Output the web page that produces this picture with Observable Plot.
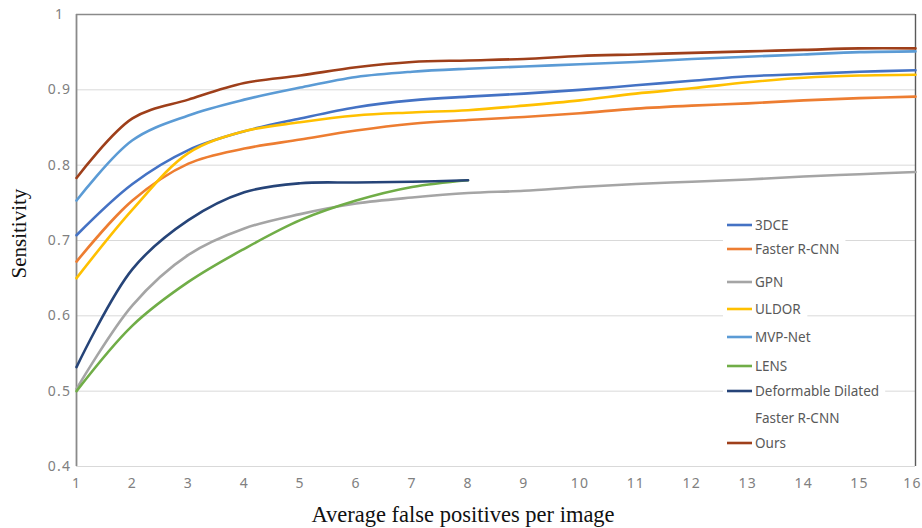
<!DOCTYPE html>
<html>
<head>
<meta charset="utf-8">
<script src="https://cdn.jsdelivr.net/npm/d3@7"></script>
<script src="https://cdn.jsdelivr.net/npm/@observablehq/plot@0.6"></script>
<style>
  html, body { margin: 0; padding: 0; background: #fff; }
  #chart svg { display: block; }
  .ticklab text { letter-spacing: 1.2px; }
</style>
</head>
<body>
<div id="chart"></div>
<script>
// ---- data ----
const xValues = [1, 2, 3, 4, 5, 6, 7, 8, 9, 10, 11, 12, 13, 14, 15, 16];
const seriesNames = ["3DCE", "Faster R-CNN", "GPN", "ULDOR", "MVP-Net", "LENS", "Deformable Dilated Faster R-CNN", "Ours"];
const seriesColors = ["#4472C4", "#ED7D31", "#A5A5A5", "#FFC000", "#5B9BD5", "#70AD47", "#264478", "#9E3F1A"];
const dce3       = [0.707, 0.775, 0.820, 0.845, 0.862, 0.877, 0.886, 0.891, 0.895, 0.900, 0.906, 0.912, 0.918, 0.921, 0.924, 0.926];
const fasterRcnn = [0.672, 0.753, 0.802, 0.822, 0.834, 0.846, 0.855, 0.860, 0.864, 0.869, 0.875, 0.879, 0.882, 0.886, 0.889, 0.891];
const gpn        = [0.503, 0.614, 0.681, 0.716, 0.735, 0.749, 0.757, 0.763, 0.766, 0.771, 0.775, 0.778, 0.781, 0.785, 0.788, 0.791];
const uldor      = [0.650, 0.741, 0.816, 0.845, 0.857, 0.866, 0.870, 0.873, 0.879, 0.886, 0.895, 0.902, 0.910, 0.916, 0.919, 0.920];
const mvpNet     = [0.753, 0.833, 0.866, 0.887, 0.903, 0.917, 0.924, 0.928, 0.931, 0.934, 0.937, 0.941, 0.944, 0.947, 0.950, 0.951];
const lens       = [0.500, 0.587, 0.645, 0.689, 0.727, 0.753, 0.771, 0.780];
const deformable = [0.532, 0.662, 0.727, 0.764, 0.776, 0.777, 0.778, 0.780];
const ours       = [0.783, 0.862, 0.887, 0.909, 0.919, 0.930, 0.937, 0.939, 0.941, 0.945, 0.947, 0.949, 0.951, 0.953, 0.955, 0.955];
const yTicks = [0.4, 0.5, 0.6, 0.7, 0.8, 0.9, 1];
const yTickLabels = ["0.4", "0.5", "0.6", "0.7", "0.8", "0.9", "1"];
const xTitle = "Average false positives per image";
const yTitle = "Sensitivity";
const legendLabels = [["3DCE"], ["Faster R-CNN"], ["GPN"], ["ULDOR"], ["MVP-Net"], ["LENS"], ["Deformable Dilated", "Faster R-CNN"], ["Ours"]];

// ---- build table ----
const seriesValues = [dce3, fasterRcnn, gpn, uldor, mvpNet, lens, deformable, ours];
const rows = [];
seriesValues.forEach((vals, i) => {
  vals.forEach((v, j) => rows.push({series: seriesNames[i], x: xValues[j], y: v}));
});

const tickFont = "'Noto Sans', 'DejaVu Sans', sans-serif";
const serif = "'Liberation Serif', 'DejaVu Serif', serif";
const lastX = xValues[xValues.length - 1];

const plot = Plot.plot({
  width: 922,
  height: 528,
  marginLeft: 76,
  marginRight: 7,
  marginTop: 14,
  marginBottom: 62,
  style: {background: "#fff"},
  x: {domain: [1, 16], axis: null},
  y: {domain: [0.4, 1], axis: null},
  color: {domain: seriesNames, range: seriesColors},
  marks: [
    Plot.ruleY(yTicks.slice(0, -1), {stroke: "#d9d9d9", strokeWidth: 1}),
    Plot.ruleY([1], {stroke: "#8a8a8a", strokeWidth: 1.6}),
    Plot.ruleX([1], {stroke: "#8a8a8a", strokeWidth: 1.8}),
    Plot.ruleX([16], {stroke: "#5a5a5a", strokeWidth: 1.4}),
    Plot.line(rows, {x: "x", y: "y", z: "series", stroke: "series", strokeWidth: 2.6, curve: "catmull-rom"}),
    Plot.text(yTicks, {y: d => d, text: (d, i) => yTickLabels[i], frameAnchor: "left", dx: -17, textAnchor: "middle",
      fontSize: 14, fontFamily: tickFont, fill: "#808080", className: "ticklab"}),
    Plot.text(xValues.filter(d => d !== lastX), {x: d => d, text: d => String(d), frameAnchor: "bottom", dy: 17, lineAnchor: "middle",
      fontSize: 14, fontFamily: tickFont, fill: "#808080", className: "ticklab"}),
    Plot.text([lastX], {x: d => d, text: d => String(d), frameAnchor: "bottom", dy: 17, dx: -3, lineAnchor: "middle",
      fontSize: 14, fontFamily: tickFont, fill: "#808080", className: "ticklab"}),
    Plot.text([xTitle], {frameAnchor: "bottom", dx: -33, dy: 48, lineAnchor: "middle", fontSize: 22.5, fontFamily: serif, fill: "#111"}),
    Plot.text([yTitle], {frameAnchor: "left", dx: -57, dy: 38, rotate: -90, lineAnchor: "middle", fontSize: 21, fontFamily: serif, fill: "#111"})
  ]
});
document.getElementById("chart").appendChild(plot);

// ---- legend inside the plot area (pixel layout) ----
const svg = d3.select(plot);
const legend = svg.append("g").attr("font-family", tickFont).attr("font-size", 13.5).attr("text-anchor", "start");
const legendRows = [225, 249, 282, 309, 337, 366, 391, 443];
const lineX0 = 727, lineX1 = 752, textX = 755;
legendLabels.forEach((lines, i) => {
  const y0 = legendRows[i];
  const g = legend.append("g");
  const t = g.append("text").attr("x", textX).attr("y", y0).attr("fill", "#595959").attr("text-anchor", "start");
  lines.forEach((ln, k) => {
    t.append("tspan").attr("x", textX).attr("dy", k === 0 ? "0.35em" : "27px").text(ln);
  });
  const bb = t.node().getBBox();
  g.insert("rect", "text").attr("x", lineX0 - 4).attr("y", bb.y - 3).attr("width", bb.x + bb.width - lineX0 + 10).attr("height", bb.height + 6).attr("fill", "#fff");
  g.append("line").attr("x1", lineX0).attr("x2", lineX1).attr("y1", y0).attr("y2", y0)
    .attr("stroke", seriesColors[i]).attr("stroke-width", 2.6);
});
</script>
</body>
</html>
